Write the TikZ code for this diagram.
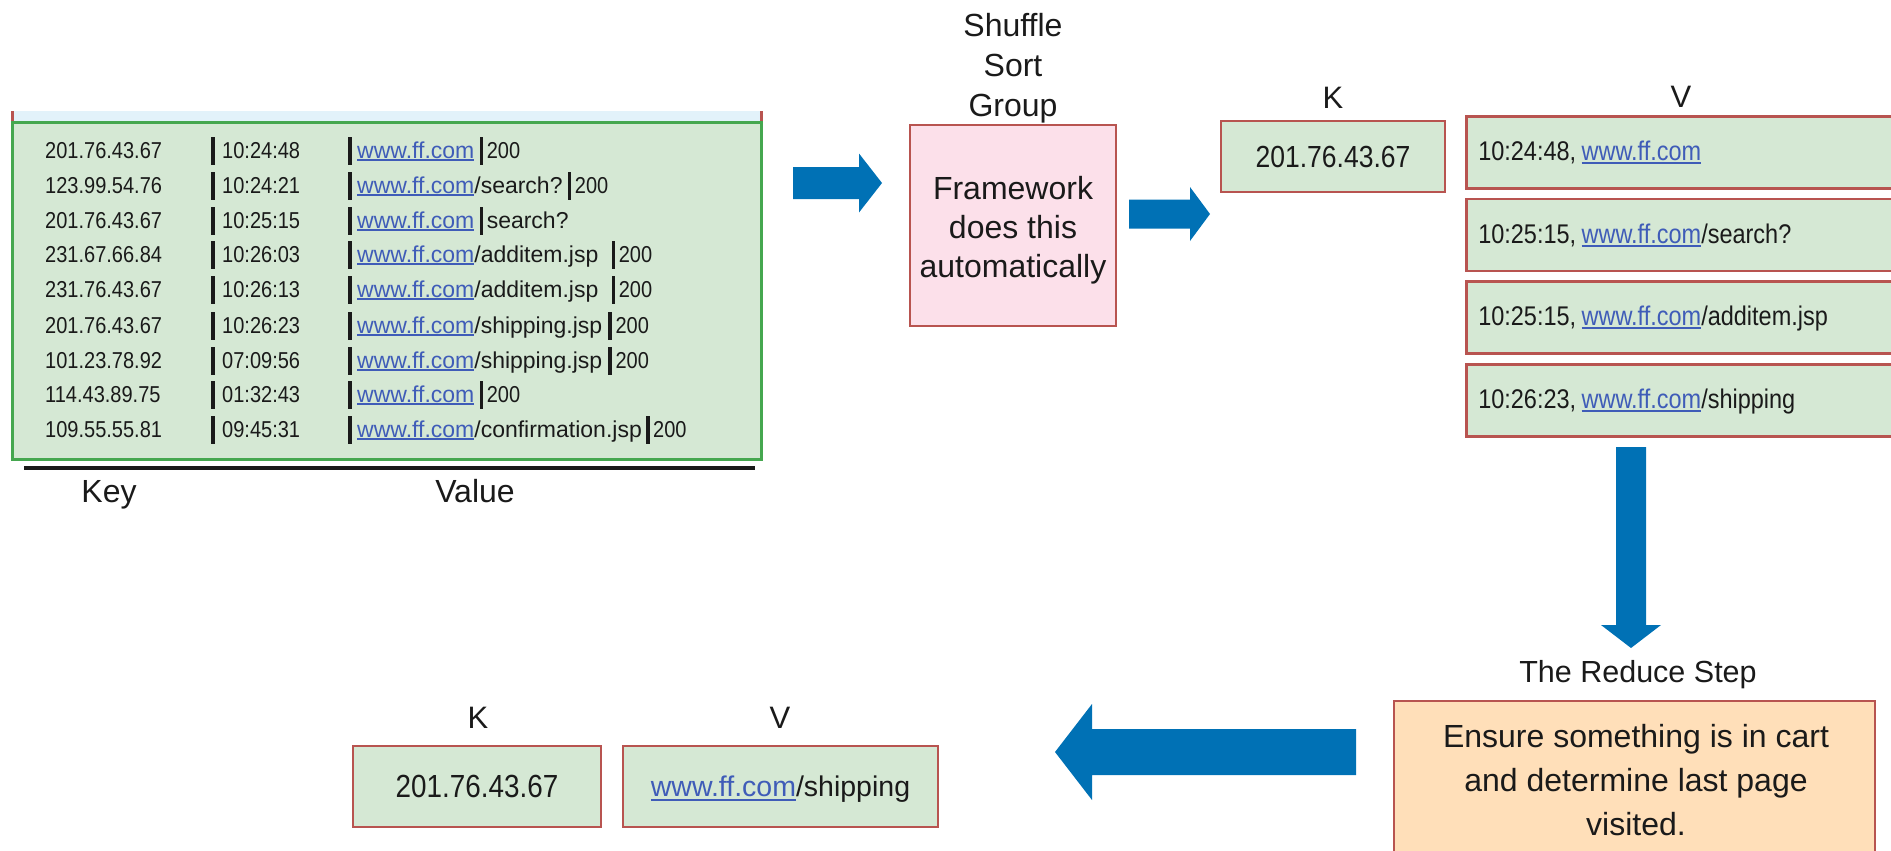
\documentclass[tikz,border=0pt]{standalone}
\usepackage{fontspec}
\setmainfont{Liberation Sans}
\newfontfamily\numfont{Liberation Sans}[FakeStretch=0.87]
\usetikzlibrary{calc}

\definecolor{kvgreen}{HTML}{D5E8D4}
\definecolor{tablegreen}{HTML}{45A74F}
\definecolor{stripblue}{HTML}{E2F2FA}
\definecolor{boxred}{HTML}{B85450}
\definecolor{pinkfill}{HTML}{FCE0EA}
\definecolor{orangefill}{HTML}{FFDFB9}
\definecolor{flowblue}{HTML}{0071B5}
\definecolor{urlblue}{HTML}{3F5CB8}
\definecolor{inkblack}{HTML}{1A1A1A}

% underlined link text
\newcommand\ulink[1]{{\color{urlblue}\setbox0=\hbox{#1}\rlap{\rule[-0.14em]{\wd0}{0.075em}}\box0}}

% one row of the web log: name, baseline, ip, time, url suffix, gap before last bar, tail
\newcommand\logrow[7]{%
  \node[cell] (#1ip) at (45,#2) {\numfont #3};
  \fill[bar] (211,#2) ++(0,-21) rectangle ++(3.5,28);
  \node[cell] (#1time) at (222,#2) {\numfont #4};
  \fill[bar] (348,#2) ++(0,-21) rectangle ++(3.5,28);
  \node[cell] (#1url) at (357,#2) {\ulink{www.ff.com}#5};
  \fill[bar] ($(#1url.base east)+(#6,-21)$) rectangle ++(3.5,28);
  \node[cell] (#1tail) at ($(#1url.base east)+(#6+7,0)$) {#7};
}

\begin{document}
\begin{tikzpicture}[x=1pt,y=-1pt,
  every node/.style={text=inkblack},
  lbl/.style={anchor=base, inner sep=0pt, font=\fontsize{31}{36}\selectfont},
  kvbox/.style={draw=boxred, line width=2.5pt, fill=kvgreen, inner sep=0pt},
  cell/.style={anchor=base west, inner sep=0pt, font=\fontsize{23}{27}\selectfont},
  bar/.style={fill=inkblack},
  flow/.style={fill=flowblue},
  multi/.style={align=center, inner sep=0pt},
]
\useasboundingbox (0,0) rectangle (1891,851);
\clip (0,0) rectangle (1891,851);

% ---------- web log table ----------
\fill[stripblue] (12,111) rectangle (761,122);
\draw[boxred, line width=3pt] (12,111) -- (12,122) (761,111) -- (761,122);
\node[draw=tablegreen, line width=3pt, fill=kvgreen, minimum width=749pt, minimum height=337pt, inner sep=0pt]
  (logtable) at (386.5,290.5) {};

\logrow{r1}{158}{201.76.43.67}{10:24:48}{}{5}{\numfont 200}
\logrow{r2}{193}{123.99.54.76}{10:24:21}{/search?}{5}{\numfont 200}
\logrow{r3}{228}{201.76.43.67}{10:25:15}{}{5}{search?}
\logrow{r4}{262}{231.67.66.84}{10:26:03}{/additem.jsp}{13}{\numfont 200}
\logrow{r5}{297}{231.76.43.67}{10:26:13}{/additem.jsp}{13}{\numfont 200}
\logrow{r6}{333}{201.76.43.67}{10:26:23}{/shipping.jsp}{6}{\numfont 200}
\logrow{r7}{368}{101.23.78.92}{07:09:56}{/shipping.jsp}{6}{\numfont 200}
\logrow{r8}{402}{114.43.89.75}{01:32:43}{}{5}{\numfont 200}
\logrow{r9}{437}{109.55.55.81}{09:45:31}{/confirmation.jsp}{4}{\numfont 200}

\draw[inkblack, line width=4pt] (24,468) -- (755,468);
\node[lbl, font=\fontsize{32}{36}\selectfont] (keylbl) at (109,502) {Key};
\node[lbl, font=\fontsize{32}{36}\selectfont] (valuelbl) at (475,502) {Value};

% ---------- shuffle / sort / group ----------
\node[multi, font=\fontsize{32}{40}\selectfont] (phase) at (1013,68.3) {Shuffle\\Sort\\Group};
\node[draw=boxred, line width=2.5pt, fill=pinkfill, minimum width=206pt, minimum height=201pt, inner sep=0pt]
  (framework) at (1013,225.5) {};
\node[multi, font=\fontsize{32}{39}\selectfont] (frameworktext) at (1013,230.7)
  {Framework\\does this\\automatically};

% ---------- grouped key and values ----------
\node[lbl] (klbl) at (1333,108) {K};
\node[lbl] (vlbl) at (1681,107) {V};
\node[kvbox, minimum width=224pt, minimum height=71pt, font=\numfont\fontsize{30.5}{36}\selectfont]
  (topkey) at (1333,156.5) {201.76.43.67};

\tikzset{vbox/.style={kvbox, anchor=west, minimum height=72pt, text width=460pt, align=left,
  inner xsep=12pt, text height=20pt, text depth=4pt, font=\fontsize{27}{32}\selectfont}}
\node[vbox] (v1) at (1465,152.5) {\numfont 10:24:48,\hspace{0.2em}\ulink{www.ff.com}};
\node[vbox] (v2) at (1465,235) {\numfont 10:25:15,\hspace{0.2em}\ulink{www.ff.com}/search?};
\node[vbox] (v3) at (1465,317.5) {\numfont 10:25:15,\hspace{0.2em}\ulink{www.ff.com}/additem.jsp};
\node[vbox] (v4) at (1465,400.5) {\numfont 10:26:23,\hspace{0.2em}\ulink{www.ff.com}/shipping};

% ---------- reduce step ----------
\node[lbl, font=\fontsize{30.5}{36}\selectfont] (reducelbl) at (1638,682) {The Reduce Step};
\node[draw=boxred, line width=2.5pt, fill=orangefill, minimum width=481pt, minimum height=170pt, inner sep=0pt]
  (reduce) at (1634.5,786) {};
\node[multi, font=\fontsize{32}{44}\selectfont] (reducetext) at (1636,780)
  {Ensure something is in cart\\and determine last page\\visited.};

% ---------- final key / value ----------
\node[lbl] (klbl2) at (478,728) {K};
\node[lbl] (vlbl2) at (780,728) {V};
\node[kvbox, minimum width=248pt, minimum height=81pt, font=\numfont\fontsize{32}{36}\selectfont]
  (finalkey) at (477,786.5) {201.76.43.67};
\node[kvbox, minimum width=315pt, minimum height=81pt, text depth=0pt, font=\fontsize{28.5}{34}\selectfont]
  (finalvalue) at (780.5,786.5) {\ulink{www.ff.com}/shipping};

% ---------- flow arrows ----------
\coordinate (a1s) at (793,183);  \coordinate (a1t) at (882,183);
\coordinate (a2s) at (1129,214); \coordinate (a2t) at (1210,214);
\coordinate (a3s) at (1631,447); \coordinate (a3t) at (1631,648);
\coordinate (a4s) at (1356,752); \coordinate (a4t) at (1055,752);

\fill[flow] ($(a1s)+(0,-16)$) -- ($(a1t)+(-23,-16)$) -- ($(a1t)+(-23,-29.5)$) -- (a1t)
  -- ($(a1t)+(-23,29.5)$) -- ($(a1t)+(-23,16)$) -- ($(a1s)+(0,16)$) -- cycle;
\fill[flow] ($(a2s)+(0,-14.5)$) -- ($(a2t)+(-20,-14.5)$) -- ($(a2t)+(-20,-27)$) -- (a2t)
  -- ($(a2t)+(-20,27)$) -- ($(a2t)+(-20,14.5)$) -- ($(a2s)+(0,14.5)$) -- cycle;
\fill[flow] ($(a3s)+(-15,0)$) -- ($(a3t)+(-15,-23)$) -- ($(a3t)+(-30,-23)$) -- (a3t)
  -- ($(a3t)+(30,-23)$) -- ($(a3t)+(15,-23)$) -- ($(a3s)+(15,0)$) -- cycle;
\fill[flow] ($(a4s)+(0,-23)$) -- ($(a4t)+(37,-23)$) -- ($(a4t)+(37,-48)$) -- (a4t)
  -- ($(a4t)+(37,48)$) -- ($(a4t)+(37,23)$) -- ($(a4s)+(0,23)$) -- cycle;
\end{tikzpicture}
\end{document}
